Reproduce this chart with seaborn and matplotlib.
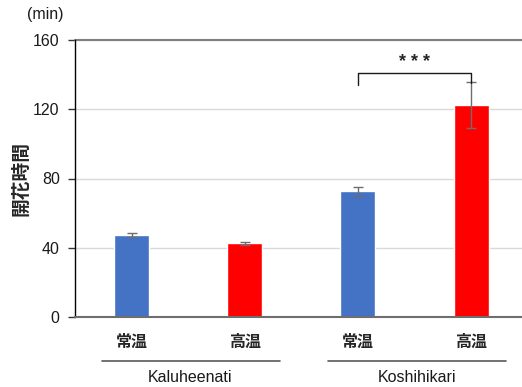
import matplotlib
matplotlib.use("Agg")
import matplotlib.pyplot as plt
import seaborn as sns
import pandas as pd

# Flowering time per cultivar and temperature treatment
cultivars = ["Kaluheenati", "Kaluheenati", "Koshihikari", "Koshihikari"]
treatments = ["常温", "高温", "常温", "高温"]
means = [47.5, 42.5, 72.5, 122.5]
errors = [1.2, 0.8, 2.5, 13.5]
colors = ["#4472C4", "#FF0000", "#4472C4", "#FF0000"]
yticks = [0, 40, 80, 120, 160]

sns.set_theme(style="white")
plt.rcParams["font.family"] = ["Liberation Sans", "Noto Sans CJK JP", "DejaVu Sans"]

df = pd.DataFrame({
    "group": [f"{c}-{t}" for c, t in zip(cultivars, treatments)],
    "mean": means,
})

fig = plt.figure(figsize=(5.22, 3.87), dpi=100)
ax = fig.add_axes([75 / 522, 1 - 317 / 387, (522 - 75) / 522, 277 / 387])

sns.barplot(data=df, x="group", y="mean", hue="group", palette=colors,
            legend=False, width=0.31, ax=ax, saturation=1)
ax.errorbar(range(len(means)), means, yerr=errors, fmt="none",
            ecolor="#6e6e6e", elinewidth=1.0, capsize=3.5, capthick=1.0)

ax.set_ylim(0, 160)
ax.set_xlim(-0.5, 3.45)
ax.set_yticks(yticks)
ax.set_yticklabels([str(v) for v in yticks], fontsize=11.5, color="#1a1a1a")
ax.yaxis.grid(True, color="#d9d9d9", linewidth=1.0)
ax.set_axisbelow(True)
ax.tick_params(axis="y", left=True, length=5, width=1, color="#333333", pad=6)
ax.tick_params(axis="x", bottom=False, pad=6)
ax.set_xticks(range(len(treatments)))
ax.set_xticklabels(treatments, fontsize=11.5, fontweight="bold",
                   family=["Noto Sans CJK JP"])

for side in ["top", "right"]:
    ax.spines[side].set_visible(False)
ax.spines["left"].set_color("black")
ax.spines["left"].set_linewidth(1.0)
ax.spines["bottom"].set_color("#6e6e6e")
ax.spines["bottom"].set_linewidth(1.5)
ax.axhline(160, color="#7f7f7f", linewidth=1.5, clip_on=False)

ax.set_xlabel("")
ax.set_ylabel("開花時間", fontsize=13.5, fontweight="bold",
              family=["Noto Sans CJK JP"])
ax.yaxis.set_label_coords(-0.1, 0.5)
fig.text(45 / 522, 1 - 15 / 387, "(min)", ha="center", va="center",
         fontsize=11.5, color="#1a1a1a")

# significance bracket between Koshihikari treatments
ax.plot([2, 2, 3, 3], [134, 141, 141, 135], color="#1a1a1a", linewidth=1.0)
ax.text(2.5, 147, "* * *", ha="center", va="center", fontsize=13,
        fontweight="bold")

# cultivar group labels under the axis
trans = ax.get_xaxis_transform()
for start, name in [(0, "Kaluheenati"), (2, "Koshihikari")]:
    ax.plot([start - 0.26, start + 1.31], [-0.158, -0.158], transform=trans,
            color="#595959", linewidth=1.2, clip_on=False)
    ax.text(start + 0.52, -0.22, name, transform=trans, ha="center",
            va="center", fontsize=11.5, color="#1a1a1a")

fig.savefig("out.png", dpi=100)
